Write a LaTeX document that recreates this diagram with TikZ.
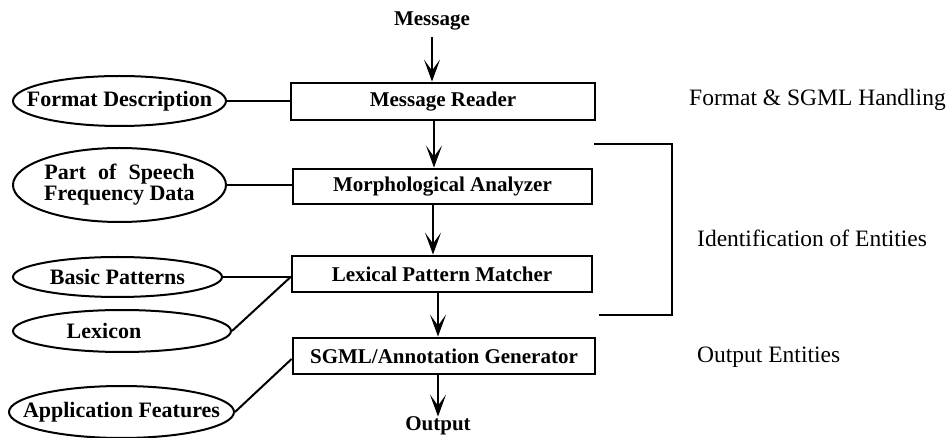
\documentclass[tikz,border=0pt]{standalone}
\usepackage{fontspec}
\setmainfont{Liberation Serif}
\usetikzlibrary{shapes.geometric,arrows.meta}
\begin{document}
\begin{tikzpicture}[x=1pt,y=-1pt,
  proc/.style={draw, line width=2.8pt, rectangle, inner sep=0pt, font=\bfseries\fontsize{21}{23}\selectfont},
  src/.style={draw, line width=2pt, ellipse, inner sep=0pt},
  srctext/.style={inner sep=0pt, align=center, font=\bfseries\fontsize{22}{21}\selectfont},
  flow/.style={line width=2pt, -{Stealth[length=22pt,width=16pt,inset=11pt]}},
  link/.style={line width=2pt},
  lbl/.style={font=\fontsize{23.5}{26}\selectfont, anchor=west, inner sep=0pt},
  term/.style={font=\bfseries\fontsize{21}{23}\selectfont, inner sep=0pt}
]
\useasboundingbox (0,0) rectangle (951,438);

% process boxes
\node[proc, minimum width=304pt, minimum height=37pt] (mr) at (443,101.5) {Message Reader};
\node[proc, minimum width=299pt, minimum height=35pt] (ma) at (442.5,186.5) {Morphological Analyzer};
\node[proc, minimum width=300pt, minimum height=36pt] (lp) at (442,274) {Lexical Pattern Matcher};
\node[proc, minimum width=302pt, minimum height=36pt] (sg) at (444,356) {SGML/Annotation Generator};

% terminals
\node[term] (msg) at (432,21) {Message};
\node[term] (outp) at (438,426) {Output};

% data sources
\node[src, minimum width=213pt, minimum height=50pt] (fd) at (119.5,101) {};
\node[srctext] (fdt) at (fd) {Format Description};
\node[src, minimum width=213pt, minimum height=74pt] (pos) at (119.5,185) {};
\node[srctext] (post) at (pos) {Part\hspace{0.55em}of\hspace{0.55em}Speech\\Frequency Data};
\node[src, minimum width=209pt, minimum height=40pt] (bp) at (117.5,277) {};
\node[srctext] (bpt) at (bp) {Basic Patterns};
\node[src, minimum width=218pt, minimum height=42pt] (lex) at (122,331) {};
\node[srctext] (lext) at ([xshift=-18pt]lex.center) {Lexicon};
\node[src, minimum width=225pt, minimum height=52pt] (af) at (121.5,412) {};
\node[srctext] (aft) at (af) {Application Features};

% flow arrows
\draw[flow] ([yshift=-7pt]msg.south) -- (msg.south |- mr.north);
\draw[flow] (mr.south -| 434,0) -- (ma.north -| 434,0);
\draw[flow] (ma.south -| 433,0) -- (lp.north -| 433,0);
\draw[flow] (lp.south -| outp.north) -- (sg.north -| outp.north);
\draw[flow] (sg.south -| outp.north) -- (outp.north);

% links from data sources
\coordinate (lpj) at ([yshift=-3pt]lp.west);
\coordinate (sgj) at ([yshift=-3pt]sg.west);
\draw[link] (fd.east) -- (fd.east -| mr.west);
\draw[link] (pos.east) -- (pos.east -| ma.west);
\draw[link] (bp.east) -- (lpj);
\draw[link] (lex.east) -- (lpj);
\draw[link] (af.east) -- (sgj);

% bracket
\coordinate (bt1) at (594,144);
\coordinate (bt2) at (672,144);
\coordinate (bb2) at (672,315);
\coordinate (bb1) at (599,315);
\draw[line width=1.6pt] (bt1) -- (bt2) -- (bb2) -- (bb1);

% stage labels
\node[lbl] (l1) at (689,100) {Format \& SGML Handling};
\node[lbl] (l2) at (697,238) {Identification of Entities};
\node[lbl] (l3) at (697,357) {Output Entities};
\end{tikzpicture}
\end{document}
